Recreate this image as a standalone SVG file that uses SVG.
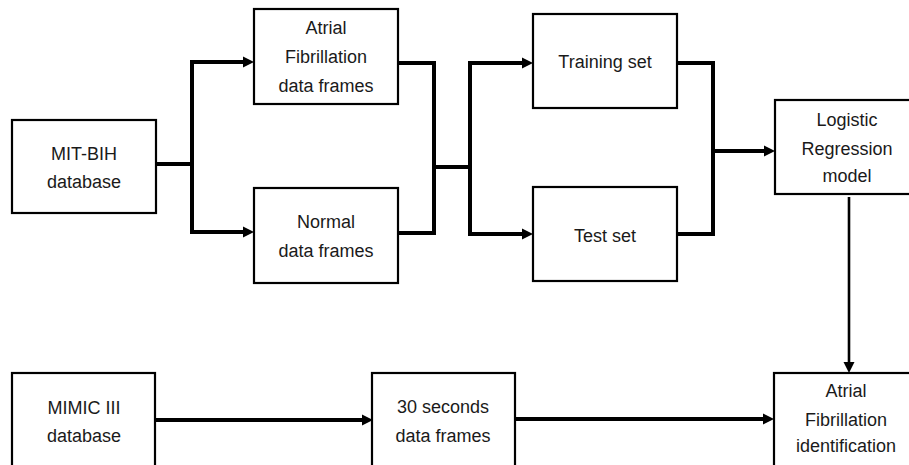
<svg xmlns="http://www.w3.org/2000/svg" width="909" height="465" viewBox="0 0 909 465">
  <style>
    .box { fill: #ffffff; stroke: #000000; stroke-width: 2.2; }
    .lbl { font-family: "Liberation Sans", Arial, sans-serif; font-size: 18px; fill: #1a1a1a; text-anchor: middle; }
    .con { fill: none; stroke: #000000; stroke-width: 4; stroke-linejoin: miter; stroke-linecap: square; }
    .thin { fill: none; stroke: #000000; stroke-width: 2.6; }
  </style>
  <defs>
    <marker id="arr" markerUnits="userSpaceOnUse" markerWidth="12" markerHeight="12" viewBox="0 0 12 12" refX="0" refY="6" orient="auto-start-reverse">
      <path d="M0 0.5 L11 6 L0 11.5 Z" fill="#000000"/>
    </marker>
  </defs>
  <rect width="909" height="465" fill="#ffffff"/>

  <g id="connectors">
    <path class="con" d="M156 164 H192"/>
    <path class="con" d="M243 62 H192 V232 H243" marker-start="url(#arr)" marker-end="url(#arr)"/>
    <path class="con" d="M399 63 H434 V233 H399"/>
    <path class="con" d="M434 167 H470"/>
    <path class="con" d="M522 63 H470 V234 H522" marker-start="url(#arr)" marker-end="url(#arr)"/>
    <path class="con" d="M678 63 H713 V234 H678"/>
    <path class="con" d="M713 151 H764" marker-end="url(#arr)"/>
    <path class="thin" d="M849 197 V362" marker-end="url(#arr)"/>
    <path class="con" d="M157 420 H362" marker-end="url(#arr)"/>
    <path class="con" d="M517 419 H763" marker-end="url(#arr)"/>
  </g>

  <g id="mitbih">
    <rect class="box" x="12" y="120" width="144" height="93"/>
    <text class="lbl" x="84" y="160">MIT-BIH</text>
    <text class="lbl" x="84" y="188">database</text>
  </g>
  <g id="af-frames">
    <rect class="box" x="254" y="9" width="144" height="95"/>
    <text class="lbl" x="326" y="34">Atrial</text>
    <text class="lbl" x="326" y="63">Fibrillation</text>
    <text class="lbl" x="326" y="92">data frames</text>
  </g>
  <g id="normal-frames">
    <rect class="box" x="254" y="188" width="144" height="95"/>
    <text class="lbl" x="326" y="228">Normal</text>
    <text class="lbl" x="326" y="257">data frames</text>
  </g>
  <g id="training">
    <rect class="box" x="533" y="14" width="144" height="94"/>
    <text class="lbl" x="605" y="68">Training set</text>
  </g>
  <g id="test">
    <rect class="box" x="533" y="187" width="144" height="94"/>
    <text class="lbl" x="605" y="242">Test set</text>
  </g>
  <g id="logistic">
    <rect class="box" x="775" y="100" width="144" height="94"/>
    <text class="lbl" x="847" y="126">Logistic</text>
    <text class="lbl" x="847" y="155">Regression</text>
    <text class="lbl" x="847" y="182">model</text>
  </g>
  <g id="mimic">
    <rect class="box" x="12" y="373" width="143" height="100"/>
    <text class="lbl" x="84" y="414">MIMIC III</text>
    <text class="lbl" x="84" y="442">database</text>
  </g>
  <g id="frames30">
    <rect class="box" x="372" y="373" width="143" height="100"/>
    <text class="lbl" x="443" y="413">30 seconds</text>
    <text class="lbl" x="443" y="442">data frames</text>
  </g>
  <g id="af-id">
    <rect class="box" x="774" y="373" width="144" height="100"/>
    <text class="lbl" x="846" y="397">Atrial</text>
    <text class="lbl" x="846" y="426">Fibrillation</text>
    <text class="lbl" x="846" y="452">identification</text>
  </g>
</svg>
